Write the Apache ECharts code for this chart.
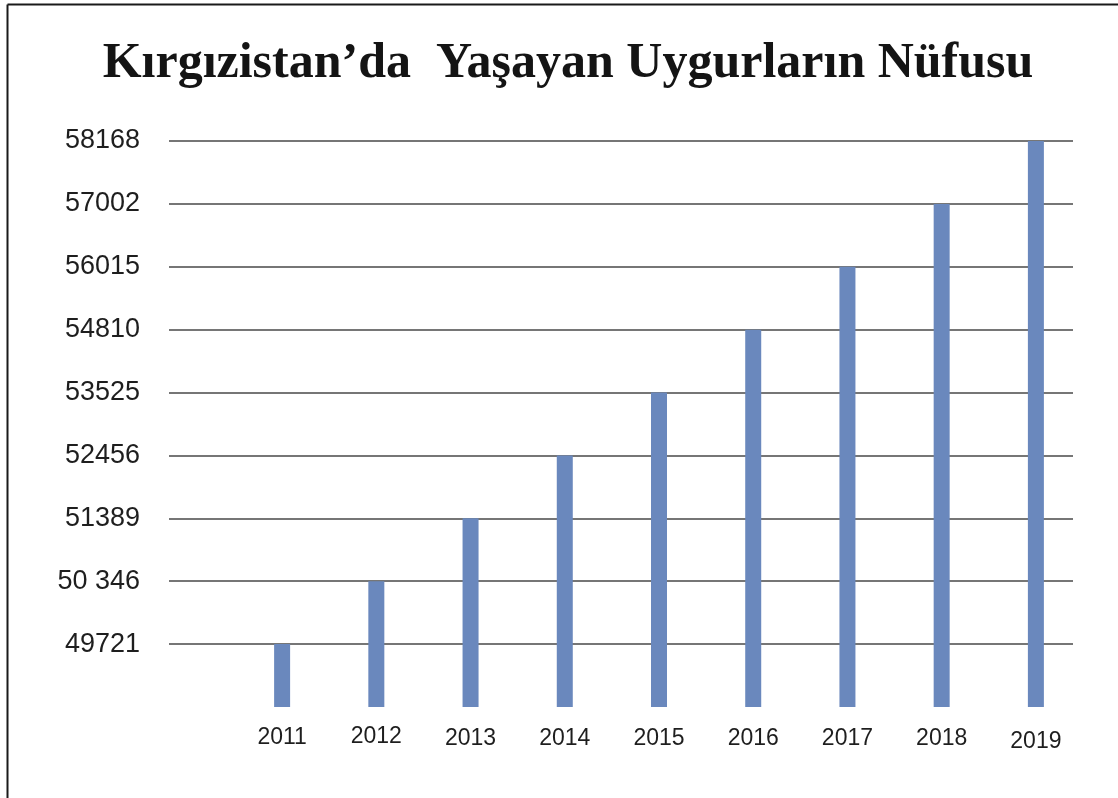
<!DOCTYPE html>
<html>
<head>
<meta charset="utf-8">
<script src="https://cdn.jsdelivr.net/npm/echarts@6/dist/echarts.min.js"></script>
<style>
html,body{margin:0;padding:0;background:#fff;}
#chart{width:1118px;height:798px;}
</style>
</head>
<body>
<div id="chart"></div>
<script>
// Data
const titleText = 'Kırgızistan’da  Yaşayan Uygurların Nüfusu';
const years = ['2011','2012','2013','2014','2015','2016','2017','2018','2019'];
const population = [49721, 50346, 51389, 52456, 53525, 54810, 56015, 57002, 58168];
const yTickLabels = ['49721','50 346','51389','52456','53525','54810','56015','57002','58168'];

// The source chart places each population level on its own evenly spaced gridline,
// so each bar's height is its rank among the listed levels.
const sortedPop = population.slice().sort((a,b)=>a-b);
const barLevels = population.map(v => sortedPop.indexOf(v) + 1);

// Style: small vertical nudges of the year labels seen in the reference
const labelNudge = [3, 0, 5, 5, 5, 4, 4, 4, 10];
const rich = {};
labelNudge.forEach((n,i)=>{ rich['o'+i] = {fontSize:23, lineHeight:23, padding:[n,0,0,0], color:'#1e1e1e', fontFamily:'Liberation Sans, Arial, sans-serif'}; });

const chart = echarts.init(document.getElementById('chart'));
chart.setOption({
  backgroundColor:'#ffffff',
  animation:false,
  title:{
    text:titleText,
    left:563, top:34, textAlign:'center',
    textStyle:{fontFamily:'Liberation Serif, Times New Roman, serif', fontWeight:'bold', fontSize:50, color:'#141414'}
  },
  graphic:[
    {type:'line', shape:{x1:7.5,y1:4.5,x2:1118,y2:4.5}, style:{stroke:'#1a1a1a', lineWidth:2}},
    {type:'line', shape:{x1:7.5,y1:4.5,x2:7.5,y2:798}, style:{stroke:'#1a1a1a', lineWidth:2}}
  ],
  grid:[
    {left:169, right:45, top:141, bottom:91},
    {left:235, right:35, top:141, bottom:91}
  ],
  xAxis:[
    {type:'value', gridIndex:0, show:false, min:0, max:1},
    {type:'category', gridIndex:1, data:years,
     axisLine:{show:false}, axisTick:{show:false},
     axisLabel:{margin:18, formatter:(v,i)=>'{o'+i+'|'+v+'}', rich:rich}}
  ],
  yAxis:[
    {type:'value', gridIndex:0, min:0, max:9, interval:1,
     axisLine:{show:false}, axisTick:{show:false},
     axisLabel:{margin:29, fontSize:27, color:'#1e1e1e', fontFamily:'Liberation Sans, Arial, sans-serif',
       formatter:(v)=> v>=1 ? yTickLabels[v-1] : ''},
     splitLine:{show:true, showMinLine:false, lineStyle:{color:'#767676', width:2}}},
    {type:'value', gridIndex:1, min:0, max:9, interval:1, show:false, splitLine:{show:false}}
  ],
  series:[
    {type:'bar', xAxisIndex:1, yAxisIndex:1, data:barLevels, barWidth:16,
     itemStyle:{color:'#6a88bd'}}
  ]
});
</script>
</body>
</html>
